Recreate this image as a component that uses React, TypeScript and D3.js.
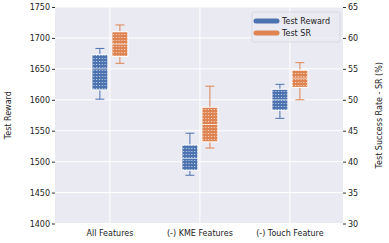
import { useEffect, useRef } from "react";
import * as d3 from "d3";

// categories and box stats
const categories = ["All Features", "(-) KME Features", "(-) Touch Feature"];
// [whiskerLow, q1, median, q3, whiskerHigh]
const rewardStats = [
  [1601, 1616, 1650, 1673, 1683],
  [1478, 1486, 1505, 1527, 1546],
  [1570, 1583, 1600, 1617, 1625],
];
const srStats = [
  [55.9, 57.0, 59.0, 61.0, 62.1],
  [42.2, 43.2, 46.0, 48.8, 52.2],
  [50.0, 52.0, 53.5, 54.8, 56.0],
];
const rewardTicks = [1400, 1450, 1500, 1550, 1600, 1650, 1700, 1750];
const srTicks = [30, 35, 40, 45, 50, 55, 60, 65];
const seriesNames = ["Test Reward", "Test SR"];
const colors = ["#4c72b0", "#dd8452"];

const W = 389;
const H = 243;

const App = () => {
  const ref = useRef<SVGSVGElement>(null);
  useEffect(() => {
    const svg = d3.select(ref.current);
    svg.selectAll("*").remove();
    const left = 55, right = 343, top = 7, bottom = 223.5;
    const font = "DejaVu Sans, sans-serif";
    const fs = 8;

    const x = d3.scaleLinear().domain([-0.61, 2.59]).range([left, right]);
    const yL = d3.scaleLinear().domain([1400, 1750]).range([bottom, top]);
    const yR = d3.scaleLinear().domain([30, 65]).range([bottom, top]);

    // dotted fill patterns
    const defs = svg.append("defs");
    colors.forEach((c, i) => {
      const p = defs.append("pattern")
        .attr("id", "pat" + i)
        .attr("patternUnits", "userSpaceOnUse")
        .attr("width", 2.8).attr("height", 3);
      p.append("rect").attr("width", 2.8).attr("height", 3).attr("fill", c);
      p.append("rect").attr("x", 1).attr("y", 1).attr("width", 1).attr("height", 1)
        .attr("fill", "#ffffff").attr("opacity", 0.75);
    });

    svg.append("rect")
      .attr("x", left).attr("y", top)
      .attr("width", right - left).attr("height", bottom - top)
      .attr("fill", "#eaeaf2");

    // grid
    svg.append("g").selectAll("line").data(rewardTicks).enter().append("line")
      .attr("x1", left).attr("x2", right)
      .attr("y1", d => yL(d)).attr("y2", d => yL(d))
      .attr("stroke", "#fff").attr("stroke-width", 1);
    svg.append("g").selectAll("line").data(categories).enter().append("line")
      .attr("y1", top).attr("y2", bottom)
      .attr("x1", (_, i) => x(i)).attr("x2", (_, i) => x(i))
      .attr("stroke", "#fff").attr("stroke-width", 1);

    // left axis
    const la = svg.append("g").attr("transform", `translate(${left},0)`)
      .call(d3.axisLeft(yL).tickValues(rewardTicks).tickFormat(d3.format("d")).tickSize(3).tickPadding(2));
    la.select(".domain").remove();
    la.selectAll("line").attr("stroke", "#333");
    la.selectAll("text").attr("font-family", font).attr("font-size", fs).attr("fill", "#222");

    const ra = svg.append("g").attr("transform", `translate(${right},0)`)
      .call(d3.axisRight(yR).tickValues(srTicks).tickFormat(d3.format("d")).tickSize(3).tickPadding(2));
    ra.select(".domain").remove();
    ra.selectAll("line").attr("stroke", "#333");
    ra.selectAll("text").attr("font-family", font).attr("font-size", fs).attr("fill", "#222");

    // x labels
    svg.append("g").selectAll("text").data(categories).enter().append("text")
      .attr("x", (_, i) => x(i)).attr("y", 236)
      .attr("text-anchor", "middle")
      .attr("font-family", font).attr("font-size", fs).attr("fill", "#222")
      .text(d => d);

    // axis titles
    svg.append("text")
      .attr("transform", `translate(11,${(top + bottom) / 2}) rotate(-90)`)
      .attr("text-anchor", "middle")
      .attr("font-family", font).attr("font-size", fs).attr("fill", "#222")
      .text("Test Reward");
    svg.append("text")
      .attr("transform", `translate(382,${(top + bottom) / 2}) rotate(-90)`)
      .attr("text-anchor", "middle")
      .attr("font-family", font).attr("font-size", fs).attr("fill", "#222")
      .text("Test Success Rate - SR (%)");

    // boxes
    const boxW = 16, capW = 9, offset = 10;
    const drawBoxes = (stats: number[][], y: d3.ScaleLinear<number, number>, si: number) => {
      const g = svg.append("g");
      stats.forEach((s, i) => {
        const cx = x(i) + (si === 0 ? -offset : offset);
        const [lo, q1, med, q3, hi] = s;
        const c = colors[si];
        g.append("line").attr("x1", cx).attr("x2", cx).attr("y1", y(hi)).attr("y2", y(q3))
          .attr("stroke", c).attr("stroke-width", 1);
        g.append("line").attr("x1", cx).attr("x2", cx).attr("y1", y(q1)).attr("y2", y(lo))
          .attr("stroke", c).attr("stroke-width", 1);
        g.append("line").attr("x1", cx - capW / 2).attr("x2", cx + capW / 2)
          .attr("y1", y(hi)).attr("y2", y(hi)).attr("stroke", c).attr("stroke-width", 1);
        g.append("line").attr("x1", cx - capW / 2).attr("x2", cx + capW / 2)
          .attr("y1", y(lo)).attr("y2", y(lo)).attr("stroke", c).attr("stroke-width", 1);
        g.append("rect")
          .attr("x", cx - boxW / 2).attr("y", y(q3))
          .attr("width", boxW).attr("height", y(q1) - y(q3))
          .attr("fill", `url(#pat${si})`)
          .attr("stroke", "#fff").attr("stroke-width", 1);
        g.append("line").attr("x1", cx - boxW / 2).attr("x2", cx + boxW / 2)
          .attr("y1", y(med)).attr("y2", y(med))
          .attr("stroke", "#fff").attr("stroke-width", 0.8).attr("opacity", 0.8);
      });
    };
    drawBoxes(rewardStats, yL, 0);
    drawBoxes(srStats, yR, 1);

    // legend
    const lg = svg.append("g").attr("transform", "translate(252,12)");
    lg.append("rect").attr("width", 88).attr("height", 30).attr("rx", 2)
      .attr("fill", "#eaeaf2").attr("fill-opacity", 0.8)
      .attr("stroke", "#d6d6de").attr("stroke-width", 0.8);
    seriesNames.forEach((n, i) => {
      const yy = 9 + i * 12;
      lg.append("line").attr("x1", 4).attr("x2", 25).attr("y1", yy).attr("y2", yy)
        .attr("stroke", colors[i]).attr("stroke-width", 5).attr("stroke-linecap", "round");
      lg.append("text").attr("x", 30).attr("y", yy + 2.9)
        .attr("font-family", font).attr("font-size", fs).attr("fill", "#222")
        .text(n);
    });
  }, []);

  return (
    <svg ref={ref} width={W} height={H}
      style={{ position: "absolute", left: 0, top: 0, background: "#fff" }} />
  );
};

export default App;
